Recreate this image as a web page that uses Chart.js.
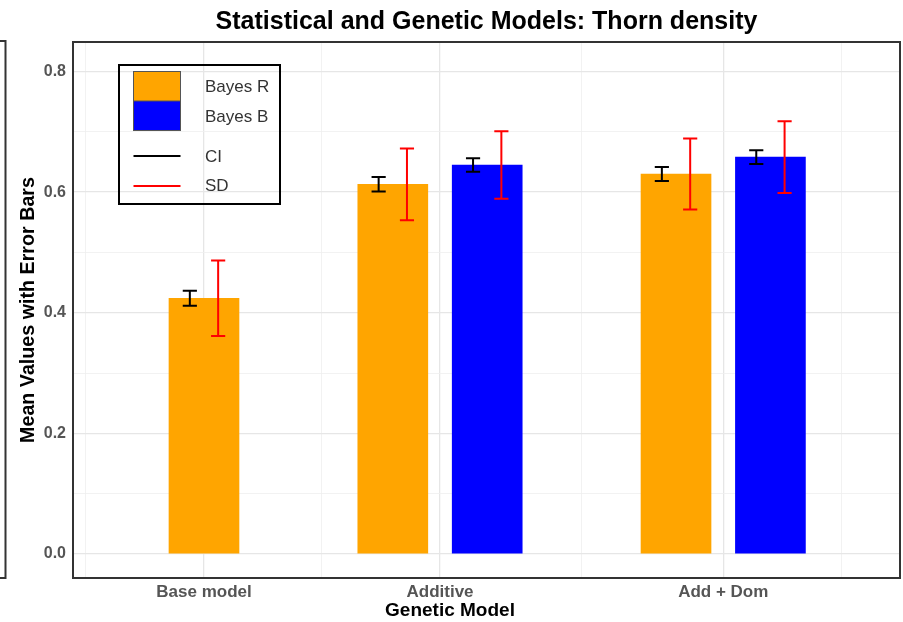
<!DOCTYPE html>
<html>
<head>
<meta charset="utf-8">
<title>Thorn density</title>
<script src="https://cdn.jsdelivr.net/npm/chart.js@4.4.1/dist/chart.umd.min.js"></script>
<style>
  html, body { margin: 0; padding: 0; background: #ffffff; }
  #wrap { width: 903px; height: 622px; }
</style>
</head>
<body>
<div id="wrap"><canvas id="thornChart" width="903" height="622"></canvas></div>
<script>
// genetic models on the x axis and where each one sits
const categories = ['Base model', 'Additive', 'Add + Dom'];
const xBreaks = [1, 2, 3.2];
const xMinorBreaks = [0.5, 1.5, 2.6, 3.7];

const seriesNames = ['Bayes R', 'Bayes B'];
const seriesColors = ['#FFA500', '#0000FF'];

// mean accuracy per model (no Bayes B run for the base model)
const bayesR = [0.424, 0.613, 0.630];
const bayesB = [null, 0.645, 0.658];

// half widths of the confidence interval and of the standard deviation
const ciR = [0.0125, 0.012, 0.0115];
const ciB = [null, 0.011, 0.0115];
const sdR = [0.0625, 0.0595, 0.059];
const sdB = [null, 0.056, 0.0595];

const yTicks = [0, 0.1, 0.2, 0.3, 0.4, 0.5, 0.6, 0.7, 0.8];

const means = [bayesR, bayesB];
const cis = [ciR, ciB];
const sds = [sdR, sdB];

// dodge like ggplot: two bars side by side, a lone bar stays centred
const dodge = 0.2;
const ciShift = -0.06;
const sdShift = 0.06;
const capHalf = 0.03;

Chart.defaults.font.family = '"Liberation Sans", Arial, Helvetica, sans-serif';

function barX(s, i) {
  let present = means.filter(m => m[i] != null).length;
  if (present < 2) return xBreaks[i];
  return xBreaks[i] + (s === 0 ? -dodge : dodge);
}

let datasets = seriesNames.map((name, s) => {
  let pts = [];
  means[s].forEach((v, i) => {
    if (v != null) pts.push({ x: barX(s, i), y: v, ci: cis[s][i], sd: sds[s][i] });
  });
  return {
    label: name,
    data: pts,
    backgroundColor: seriesColors[s],
    borderWidth: 0,
    barThickness: 70,
    grouped: false
  };
});

function whisker(ctx, xs, ys, x, lo, hi, color) {
  let px = xs.getPixelForValue(x);
  let l = xs.getPixelForValue(x - capHalf);
  let r = xs.getPixelForValue(x + capHalf);
  let top = ys.getPixelForValue(hi);
  let bot = ys.getPixelForValue(lo);
  ctx.strokeStyle = color;
  ctx.lineWidth = 2;
  ctx.beginPath();
  ctx.moveTo(px, top); ctx.lineTo(px, bot);
  ctx.moveTo(l, top); ctx.lineTo(r, top);
  ctx.moveTo(l, bot); ctx.lineTo(r, bot);
  ctx.stroke();
}

const errorBars = {
  id: 'errorBars',
  afterDatasetsDraw(chart) {
    const ctx = chart.ctx;
    const xs = chart.scales.x, ys = chart.scales.y;
    ctx.save();
    chart.data.datasets.forEach(ds => {
      ds.data.forEach(p => {
        whisker(ctx, xs, ys, p.x + ciShift, p.y - p.ci, p.y + p.ci, '#000000');
        whisker(ctx, xs, ys, p.x + sdShift, p.y - p.sd, p.y + p.sd, '#FF0000');
      });
    });
    ctx.restore();
  }
};

// panel frame plus the boxed key in the top left corner
const frameAndKey = {
  id: 'frameAndKey',
  afterDraw(chart) {
    const ctx = chart.ctx;
    const a = chart.chartArea;
    ctx.save();
    ctx.strokeStyle = '#333333';
    ctx.lineWidth = 2;
    ctx.strokeRect(a.left, a.top, a.right - a.left, a.bottom - a.top);

    // right edge of the neighbouring panel, cut off by the canvas
    ctx.beginPath();
    ctx.moveTo(0, a.top - 1); ctx.lineTo(5.5, a.top - 1);
    ctx.lineTo(5.5, a.bottom); ctx.lineTo(0, a.bottom);
    ctx.stroke();

    let kx = a.left + 46, ky = a.top + 23;
    ctx.strokeStyle = '#000000';
    ctx.strokeRect(kx, ky, 161, 139);

    let sx = a.left + 60.5, sw = 47;
    let rows = [a.top + 29.5, a.top + 59];
    seriesColors.forEach((c, s) => {
      ctx.fillStyle = c;
      ctx.fillRect(sx, rows[s], sw, 29.5);
    });
    ctx.strokeStyle = '#555555';
    ctx.lineWidth = 1;
    ctx.strokeRect(sx, rows[0], sw, 59);
    ctx.beginPath();
    ctx.moveTo(sx, rows[1]); ctx.lineTo(sx + sw, rows[1]);
    ctx.stroke();

    ctx.lineWidth = 2;
    [['#000000', a.top + 114], ['#FF0000', a.top + 144]].forEach(l => {
      ctx.strokeStyle = l[0];
      ctx.beginPath();
      ctx.moveTo(sx, l[1]); ctx.lineTo(sx + sw, l[1]);
      ctx.stroke();
    });

    ctx.fillStyle = '#333333';
    ctx.font = '17px "Liberation Sans", Arial, sans-serif';
    ctx.textBaseline = 'middle';
    ctx.textAlign = 'left';
    let tx = a.left + 132;
    ctx.fillText(seriesNames[0], tx, a.top + 45);
    ctx.fillText(seriesNames[1], tx, a.top + 75);
    ctx.fillText('CI', tx, a.top + 115);
    ctx.fillText('SD', tx, a.top + 144);
    ctx.restore();
  }
};

function isMajorX(ctx) {
  return !!ctx.tick && xBreaks.some(b => Math.abs(b - ctx.tick.value) < 1e-6);
}

function isMajorY(ctx) {
  return !!ctx.tick && Math.round(ctx.tick.value * 10) % 2 === 0;
}

new Chart(document.getElementById('thornChart'), {
  type: 'bar',
  data: { datasets: datasets },
  options: {
    responsive: false,
    animation: false,
    devicePixelRatio: 1,
    layout: { padding: { left: 0, right: 3, top: 0, bottom: 0 } },
    plugins: {
      legend: { display: false },
      tooltip: { enabled: false },
      title: {
        display: true,
        fullSize: false,
        text: 'Statistical and Genetic Models: Thorn density',
        color: '#000000',
        font: { size: 25, weight: 'bold', lineHeight: 1.2 },
        padding: { top: 7, bottom: 5 }
      },
      subtitle: {
        display: true,
        position: 'bottom',
        text: 'Genetic Model',
        color: '#000000',
        font: { size: 19, weight: 'bold', lineHeight: 1.0 },
        padding: { top: 0, bottom: 2 }
      }
    },
    scales: {
      x: {
        type: 'linear',
        offset: false,
        min: 0.445,
        max: 3.949,
        afterBuildTicks: scale => {
          scale.ticks = xMinorBreaks.concat(xBreaks).sort((p, q) => p - q).map(v => ({ value: v }));
        },
        afterFit: scale => { scale.height = 23; },
        border: { display: false },
        grid: {
          offset: false,
          drawTicks: false,
          color: ctx => isMajorX(ctx) ? '#e6e6e6' : '#efefef',
          lineWidth: ctx => isMajorX(ctx) ? 1.3 : 0.8
        },
        ticks: {
          autoSkip: false,
          maxRotation: 0,
          padding: 4,
          color: '#555555',
          font: { size: 17, weight: 'bold' },
          callback: v => {
            let i = xBreaks.findIndex(b => Math.abs(b - v) < 1e-6);
            return i >= 0 ? categories[i] : '';
          }
        }
      },
      y: {
        min: -0.04,
        max: 0.849,
        afterBuildTicks: scale => {
          scale.ticks = yTicks.map(v => ({ value: v }));
        },
        afterFit: scale => { scale.width = 73; },
        border: { display: false },
        grid: {
          drawTicks: false,
          color: ctx => isMajorY(ctx) ? '#e6e6e6' : '#efefef',
          lineWidth: ctx => isMajorY(ctx) ? 1.3 : 0.8
        },
        ticks: {
          padding: 7,
          color: '#555555',
          font: { size: 16, weight: 'bold' },
          callback: v => Math.round(v * 10) % 2 === 0 ? v.toFixed(1) : ''
        },
        title: {
          display: true,
          text: 'Mean Values with Error Bars',
          color: '#000000',
          font: { size: 19.7, weight: 'bold', lineHeight: 1.2 },
          padding: { top: 17, bottom: 0 }
        }
      }
    }
  },
  plugins: [errorBars, frameAndKey]
});
</script>
</body>
</html>
